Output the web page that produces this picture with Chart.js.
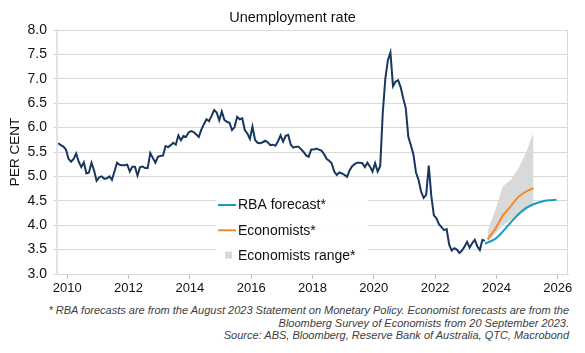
<!DOCTYPE html>
<html lang="en">
<head>
<meta charset="UTF-8">
<title>Unemployment rate</title>
<script src="https://cdn.jsdelivr.net/npm/chart.js"></script>
<style>
    body {
        margin: 0;
        background: #ffffff;
        font-family: "Liberation Sans", Arial, sans-serif;
    }
    .wrap {
        position: relative;
        width: 585px;
        height: 353px;
    }
    canvas {
        position: absolute;
        left: 0;
        top: 0;
    }
    .note {
        position: absolute;
        right: 16px;
        top: 304px;
        width: 570px;
        text-align: right;
        font-style: italic;
        font-size: 11px;
        line-height: 12.5px;
        color: #404040;
    }
</style>
</head>
<body>
<div class="wrap">
    <canvas id="unemploymentChart" width="585" height="300"></canvas>
    <div class="note">
        * RBA forecasts are from the August 2023 Statement on Monetary Policy. Economist forecasts are from the<br>
        Bloomberg Survey of Economists from 20 September 2023.<br>
        Source: ABS, Bloomberg, Reserve Bank of Australia, QTC, Macrobond
    </div>
</div>

<script>
// Monthly unemployment rate, Sep 2009 to Aug 2023 (per cent)
const startYear = 2009;
const startMonth = 9;
const unemployment = [
    5.68, 5.64, 5.61, 5.55, 5.36, 5.30, 5.36, 5.47, 5.30, 5.19, 5.29, 5.06,
    5.08, 5.28, 5.12, 4.91, 4.98, 5.00, 4.95, 4.96, 5.00, 4.93, 5.10, 5.28,
    5.24, 5.23, 5.23, 5.24, 5.10, 5.20, 5.20, 5.02, 5.19, 5.20, 5.17, 5.17,
    5.48, 5.38, 5.28, 5.40, 5.42, 5.43, 5.62, 5.60, 5.64, 5.69, 5.65, 5.84,
    5.74, 5.83, 5.81, 5.90, 5.93, 5.91, 5.86, 5.81, 5.96, 6.07, 6.17, 6.13,
    6.24, 6.36, 6.31, 6.15, 6.33, 6.16, 6.12, 6.10, 5.95, 6.01, 6.22, 6.17,
    6.19, 5.95, 5.88, 5.77, 6.02, 5.75, 5.69, 5.68, 5.70, 5.73, 5.70, 5.64,
    5.65, 5.63, 5.72, 5.84, 5.71, 5.83, 5.85, 5.65, 5.59, 5.61, 5.61, 5.56,
    5.50, 5.43, 5.40, 5.55, 5.55, 5.57, 5.55, 5.53, 5.46, 5.36, 5.32, 5.27,
    5.10, 5.03, 5.08, 5.06, 5.03, 4.99, 5.12, 5.21, 5.25, 5.28, 5.28, 5.27,
    5.19, 5.28, 5.20, 5.10, 5.27, 5.10, 5.21, 6.30, 7.00, 7.38, 7.54, 6.85,
    6.94, 6.97, 6.83, 6.60, 6.40, 5.81, 5.64, 5.45, 5.08, 4.93, 4.69, 4.56,
    4.62, 5.22, 4.60, 4.20, 4.14, 4.02, 3.96, 3.90, 3.92, 3.60, 3.48, 3.53,
    3.50, 3.43, 3.48, 3.56, 3.66, 3.54, 3.63, 3.70, 3.57, 3.49, 3.70, 3.68
];

// RBA forecast (August 2023 SMP)
const rbaMonths = ['2023-08', '2023-12', '2024-03', '2024-06', '2024-09', '2024-12', '2025-03', '2025-06', '2025-09', '2025-12'];
const rbaValues = [3.62, 3.72, 3.87, 4.05, 4.22, 4.35, 4.43, 4.48, 4.51, 4.52];

// Bloomberg survey of economists: median and range
const econMonths = ['2023-09', '2023-12', '2024-03', '2024-06', '2024-09', '2024-12', '2025-03'];
const econMedian = [3.71, 3.92, 4.20, 4.38, 4.58, 4.69, 4.76];
const econHigh = [3.88, 4.30, 4.80, 4.92, 5.15, 5.48, 5.90];
const econLow = [3.66, 3.82, 4.00, 4.10, 4.19, 4.30, 4.46];

const yearTicks = [2010, 2012, 2014, 2016, 2018, 2020, 2022, 2024, 2026];

const NAVY = '#17375f';
const TEAL = '#189cc4';
const ORANGE = '#f28a2b';
const BAND = '#d9d9d9';
const FONT = '"Liberation Sans", Arial, sans-serif';

function monthToYear(label) {
    const parts = label.split('-').map(Number);
    return parts[0] + (parts[1] - 0.5) / 12;
}

function pairs(months, values) {
    return months.map((m, i) => ({ x: monthToYear(m), y: values[i] }));
}

const actualPoints = unemployment.map((v, i) => ({
    x: startYear + (startMonth - 1 + i + 0.5) / 12,
    y: v
}));

// title, frame and legend drawn straight onto the canvas
const extras = {
    id: 'extras',
    afterDatasetsDraw(chart) {
        const ctx = chart.ctx;
        const area = chart.chartArea;
        ctx.save();
        ctx.strokeStyle = '#d9d9d9';
        ctx.lineWidth = 1;
        ctx.beginPath();
        ctx.moveTo(area.left, area.top + 0.5);
        ctx.lineTo(area.right - 0.5, area.top + 0.5);
        ctx.lineTo(area.right - 0.5, area.bottom);
        ctx.stroke();

        // legend box
        ctx.fillStyle = 'rgba(255,255,255,0.92)';
        ctx.fillRect(216, 189, 152, 79);
        const items = [
            { label: 'RBA forecast*', color: TEAL, kind: 'line' },
            { label: 'Economists*', color: ORANGE, kind: 'line' },
            { label: 'Economists range*', color: BAND, kind: 'box' }
        ];
        ctx.font = '14px ' + FONT;
        ctx.textBaseline = 'middle';
        items.forEach((it, i) => {
            const y = 205 + i * 25.3;
            if (it.kind === 'line') {
                ctx.strokeStyle = it.color;
                ctx.lineWidth = 2;
                ctx.beginPath();
                ctx.moveTo(218, y);
                ctx.lineTo(236, y);
                ctx.stroke();
            } else {
                ctx.fillStyle = it.color;
                ctx.fillRect(225, y - 4, 7, 7);
            }
            ctx.fillStyle = '#111111';
            ctx.fillText(it.label, 238, y + 0.5);
        });

        ctx.font = '14.5px ' + FONT;
        ctx.textAlign = 'center';
        ctx.textBaseline = 'alphabetic';
        ctx.fillStyle = '#111111';
        ctx.fillText('Unemployment rate', 292.5, 21.5);
        ctx.restore();
    }
};

new Chart(document.getElementById('unemploymentChart'), {
    type: 'line',
    data: {
        datasets: [
            {
                label: 'Economists range high',
                data: pairs(econMonths, econHigh),
                order: 5,
                borderWidth: 0,
                pointRadius: 0,
                backgroundColor: BAND,
                fill: '+1'
            },
            {
                label: 'Economists range low',
                data: pairs(econMonths, econLow),
                order: 6,
                borderWidth: 0,
                pointRadius: 0,
                fill: false
            },
            {
                label: 'Unemployment rate',
                data: actualPoints,
                order: 3,
                borderColor: NAVY,
                borderWidth: 2,
                pointRadius: 0,
                fill: false
            },
            {
                label: 'Economists*',
                data: pairs(econMonths, econMedian),
                order: 2,
                borderColor: ORANGE,
                borderWidth: 2,
                pointRadius: 0,
                fill: false
            },
            {
                label: 'RBA forecast*',
                data: pairs(rbaMonths, rbaValues),
                order: 1,
                borderColor: TEAL,
                borderWidth: 2,
                pointRadius: 0,
                cubicInterpolationMode: 'monotone',
                fill: false
            }
        ]
    },
    options: {
        responsive: false,
        animation: false,
        devicePixelRatio: 1,
        layout: {
            padding: { top: 30, right: 17, bottom: 0, left: 0 }
        },
        plugins: {
            legend: { display: false },
            title: { display: false },
            tooltip: { enabled: false }
        },
        scales: {
            x: {
                type: 'linear',
                min: 2009 + 2 / 3,
                max: 2026 + 1 / 3,
                afterBuildTicks: scale => {
                    scale.ticks = yearTicks.map(v => ({ value: v }));
                },
                afterFit: scale => {
                    scale.height = 26;
                },
                grid: {
                    drawOnChartArea: false,
                    drawTicks: true,
                    tickLength: 5,
                    color: '#bfbfbf'
                },
                border: { color: '#d9d9d9' },
                ticks: {
                    padding: 2,
                    maxRotation: 0,
                    color: '#111111',
                    font: { family: FONT, size: 13 },
                    callback: v => String(v)
                }
            },
            y: {
                min: 3,
                max: 8,
                afterFit: scale => {
                    scale.width = 57;
                },
                grid: {
                    color: '#d9d9d9',
                    tickLength: 4
                },
                border: { color: '#e3e3e3', width: 2 },
                ticks: {
                    stepSize: 0.5,
                    padding: 6,
                    color: '#111111',
                    font: { family: FONT, size: 14 },
                    callback: v => v.toFixed(1)
                },
                title: {
                    display: true,
                    text: 'PER CENT',
                    color: '#111111',
                    padding: { top: 7, bottom: 0 },
                    font: { family: FONT, size: 13.5 }
                }
            }
        }
    },
    plugins: [extras]
});
</script>
</body>
</html>
